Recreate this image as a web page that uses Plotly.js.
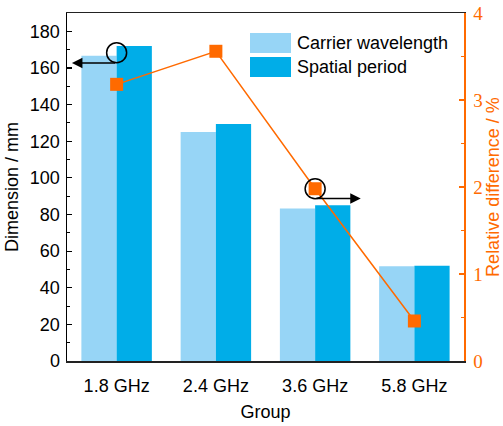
<!DOCTYPE html>
<html>
<head>
<meta charset="utf-8">
<script src="https://cdn.plot.ly/plotly-3.0.1.min.js"></script>
<style>
  html, body { margin: 0; padding: 0; background: #fff; }
  #chart { width: 503px; height: 426px; }
</style>
</head>
<body>
<div id="chart"></div>
<script>
// Frequency groups
const groups = ['1.8 GHz', '2.4 GHz', '3.6 GHz', '5.8 GHz'];
// Dimensions in mm
const carrierWavelength = [166.7, 125.0, 83.3, 51.7];
const spatialPeriod = [172.0, 129.4, 85.0, 52.0];
// Relative difference in %
const relativeDiff = [3.18, 3.56, 1.98, 0.46];

const seriesNames = ['Carrier wavelength', 'Spatial period'];
const lightBlue = '#97D5F6';
const deepBlue = '#00ADE8';
const orange = '#FF6A00';

// plot area in pixels
const L = 67, R = 39, T = 13, B = 65, W = 503, H = 426;
const pw = W - L - R, ph = H - T - B;
const px = v => (v - L) / pw;          // pixel x -> paper
const py = v => (H - B - v) / ph;      // pixel y -> paper

const traces = [
  {
    type: 'bar', name: seriesNames[0], x: groups, y: carrierWavelength,
    marker: { color: lightBlue, line: { width: 0 } }, showlegend: false,
    hoverinfo: 'skip'
  },
  {
    type: 'bar', name: seriesNames[1], x: groups, y: spatialPeriod,
    marker: { color: deepBlue, line: { width: 0 } }, showlegend: false,
    hoverinfo: 'skip'
  },
  {
    type: 'scatter', mode: 'lines+markers', name: 'Relative difference',
    x: groups, y: relativeDiff, yaxis: 'y2', showlegend: false,
    line: { color: orange, width: 1.5 },
    marker: { symbol: 'square', size: 13, color: orange }
  }
];

const sans = 'Liberation Sans, Arial, sans-serif';
const serif = 'Liberation Serif, Times New Roman, serif';
const FS = 18;

const layout = {
  width: W, height: H,
  margin: { l: L, r: R, t: T, b: B, pad: 0 },
  paper_bgcolor: '#fff', plot_bgcolor: '#fff',
  barmode: 'group', bargap: 0.29, bargroupgap: 0,
  showlegend: false,
  font: { family: sans, size: FS, color: '#000' },
  xaxis: {
    type: 'category', range: [-0.5, 3.5],
    showline: true, linecolor: '#222', linewidth: 1.5, mirror: true,
    ticks: '', showgrid: false, zeroline: false,
    tickfont: { family: sans, size: FS, color: '#000' },
    ticklabelstandoff: 8,
    title: { text: 'Group', font: { family: sans, size: FS }, standoff: 10 }
  },
  yaxis: {
    range: [0, 190], dtick: 20, tick0: 0,
    showline: true, linecolor: '#000', linewidth: 1.5,
    ticks: 'inside', ticklen: 5, tickwidth: 1.2, tickcolor: '#000',
    minor: { dtick: 10, ticks: 'inside', ticklen: 3, tickcolor: '#000', tickwidth: 1 },
    showgrid: false, zeroline: false,
    tickfont: { family: sans, size: FS, color: '#000' },
    ticklabelstandoff: 2,
    title: { text: 'Dimension / mm', font: { family: sans, size: FS }, standoff: 6 }
  },
  yaxis2: {
    overlaying: 'y', side: 'right', range: [0, 4], dtick: 1, tick0: 0,
    showline: true, linecolor: orange, linewidth: 1.5,
    ticks: 'inside', ticklen: 5, tickwidth: 1.2, tickcolor: orange,
    minor: { dtick: 0.5, ticks: 'inside', ticklen: 3, tickcolor: orange, tickwidth: 1 },
    showgrid: false, zeroline: false,
    tickfont: { family: serif, size: 19, color: orange },
    ticklabelstandoff: 4,
    title: { text: 'Relative difference / %', font: { family: sans, size: FS, color: orange }, standoff: 4 }
  },
  shapes: [
    // circle marking the left-axis series
    { type: 'circle', layer: 'above', xref: 'x', yref: 'y',
      xsizemode: 'pixel', ysizemode: 'pixel',
      xanchor: 0, yanchor: carrierWavelength[0],
      x0: -10, x1: 10, y0: -7, y1: 13,
      line: { color: '#000', width: 1.5 }, fillcolor: 'rgba(0,0,0,0)' },
    // circle marking the right-axis series
    { type: 'circle', layer: 'above', xref: 'x', yref: 'y2',
      xsizemode: 'pixel', ysizemode: 'pixel',
      xanchor: 2, yanchor: relativeDiff[2],
      x0: -10, x1: 10, y0: -10, y1: 10,
      line: { color: '#000', width: 1.5 }, fillcolor: 'rgba(0,0,0,0)' },
    // legend swatches
    { type: 'rect', xref: 'paper', yref: 'paper', layer: 'above',
      x0: px(250), x1: px(291), y0: py(53), y1: py(33),
      fillcolor: lightBlue, line: { width: 0 } },
    { type: 'rect', xref: 'paper', yref: 'paper', layer: 'above',
      x0: px(250), x1: px(291), y0: py(77), y1: py(57),
      fillcolor: deepBlue, line: { width: 0 } }
  ],
  annotations: [
    // arrow pointing to the left axis
    { xref: 'x', yref: 'y', axref: 'x', ayref: 'y',
      x: -0.45, y: 162.7, ax: 0, ay: 162.7,
      showarrow: true, arrowhead: 2, arrowsize: 1.4, arrowwidth: 1.5,
      arrowcolor: '#000', text: '' },
    // arrow pointing to the right axis
    { xref: 'x', yref: 'y2', axref: 'x', ayref: 'y2',
      x: 2.46, y: 1.867, ax: 2, ay: 1.867,
      showarrow: true, arrowhead: 2, arrowsize: 1.4, arrowwidth: 1.5,
      arrowcolor: '#000', text: '' },
    // legend labels
    { xref: 'paper', yref: 'paper', x: px(295), y: py(43), xanchor: 'left', yanchor: 'middle',
      showarrow: false, text: seriesNames[0], font: { family: sans, size: FS, color: '#000' } },
    { xref: 'paper', yref: 'paper', x: px(295), y: py(67), xanchor: 'left', yanchor: 'middle',
      showarrow: false, text: seriesNames[1], font: { family: sans, size: FS, color: '#000' } }
  ]
};

Plotly.newPlot('chart', traces, layout, { displayModeBar: false, staticPlot: true });
</script>
</body>
</html>
